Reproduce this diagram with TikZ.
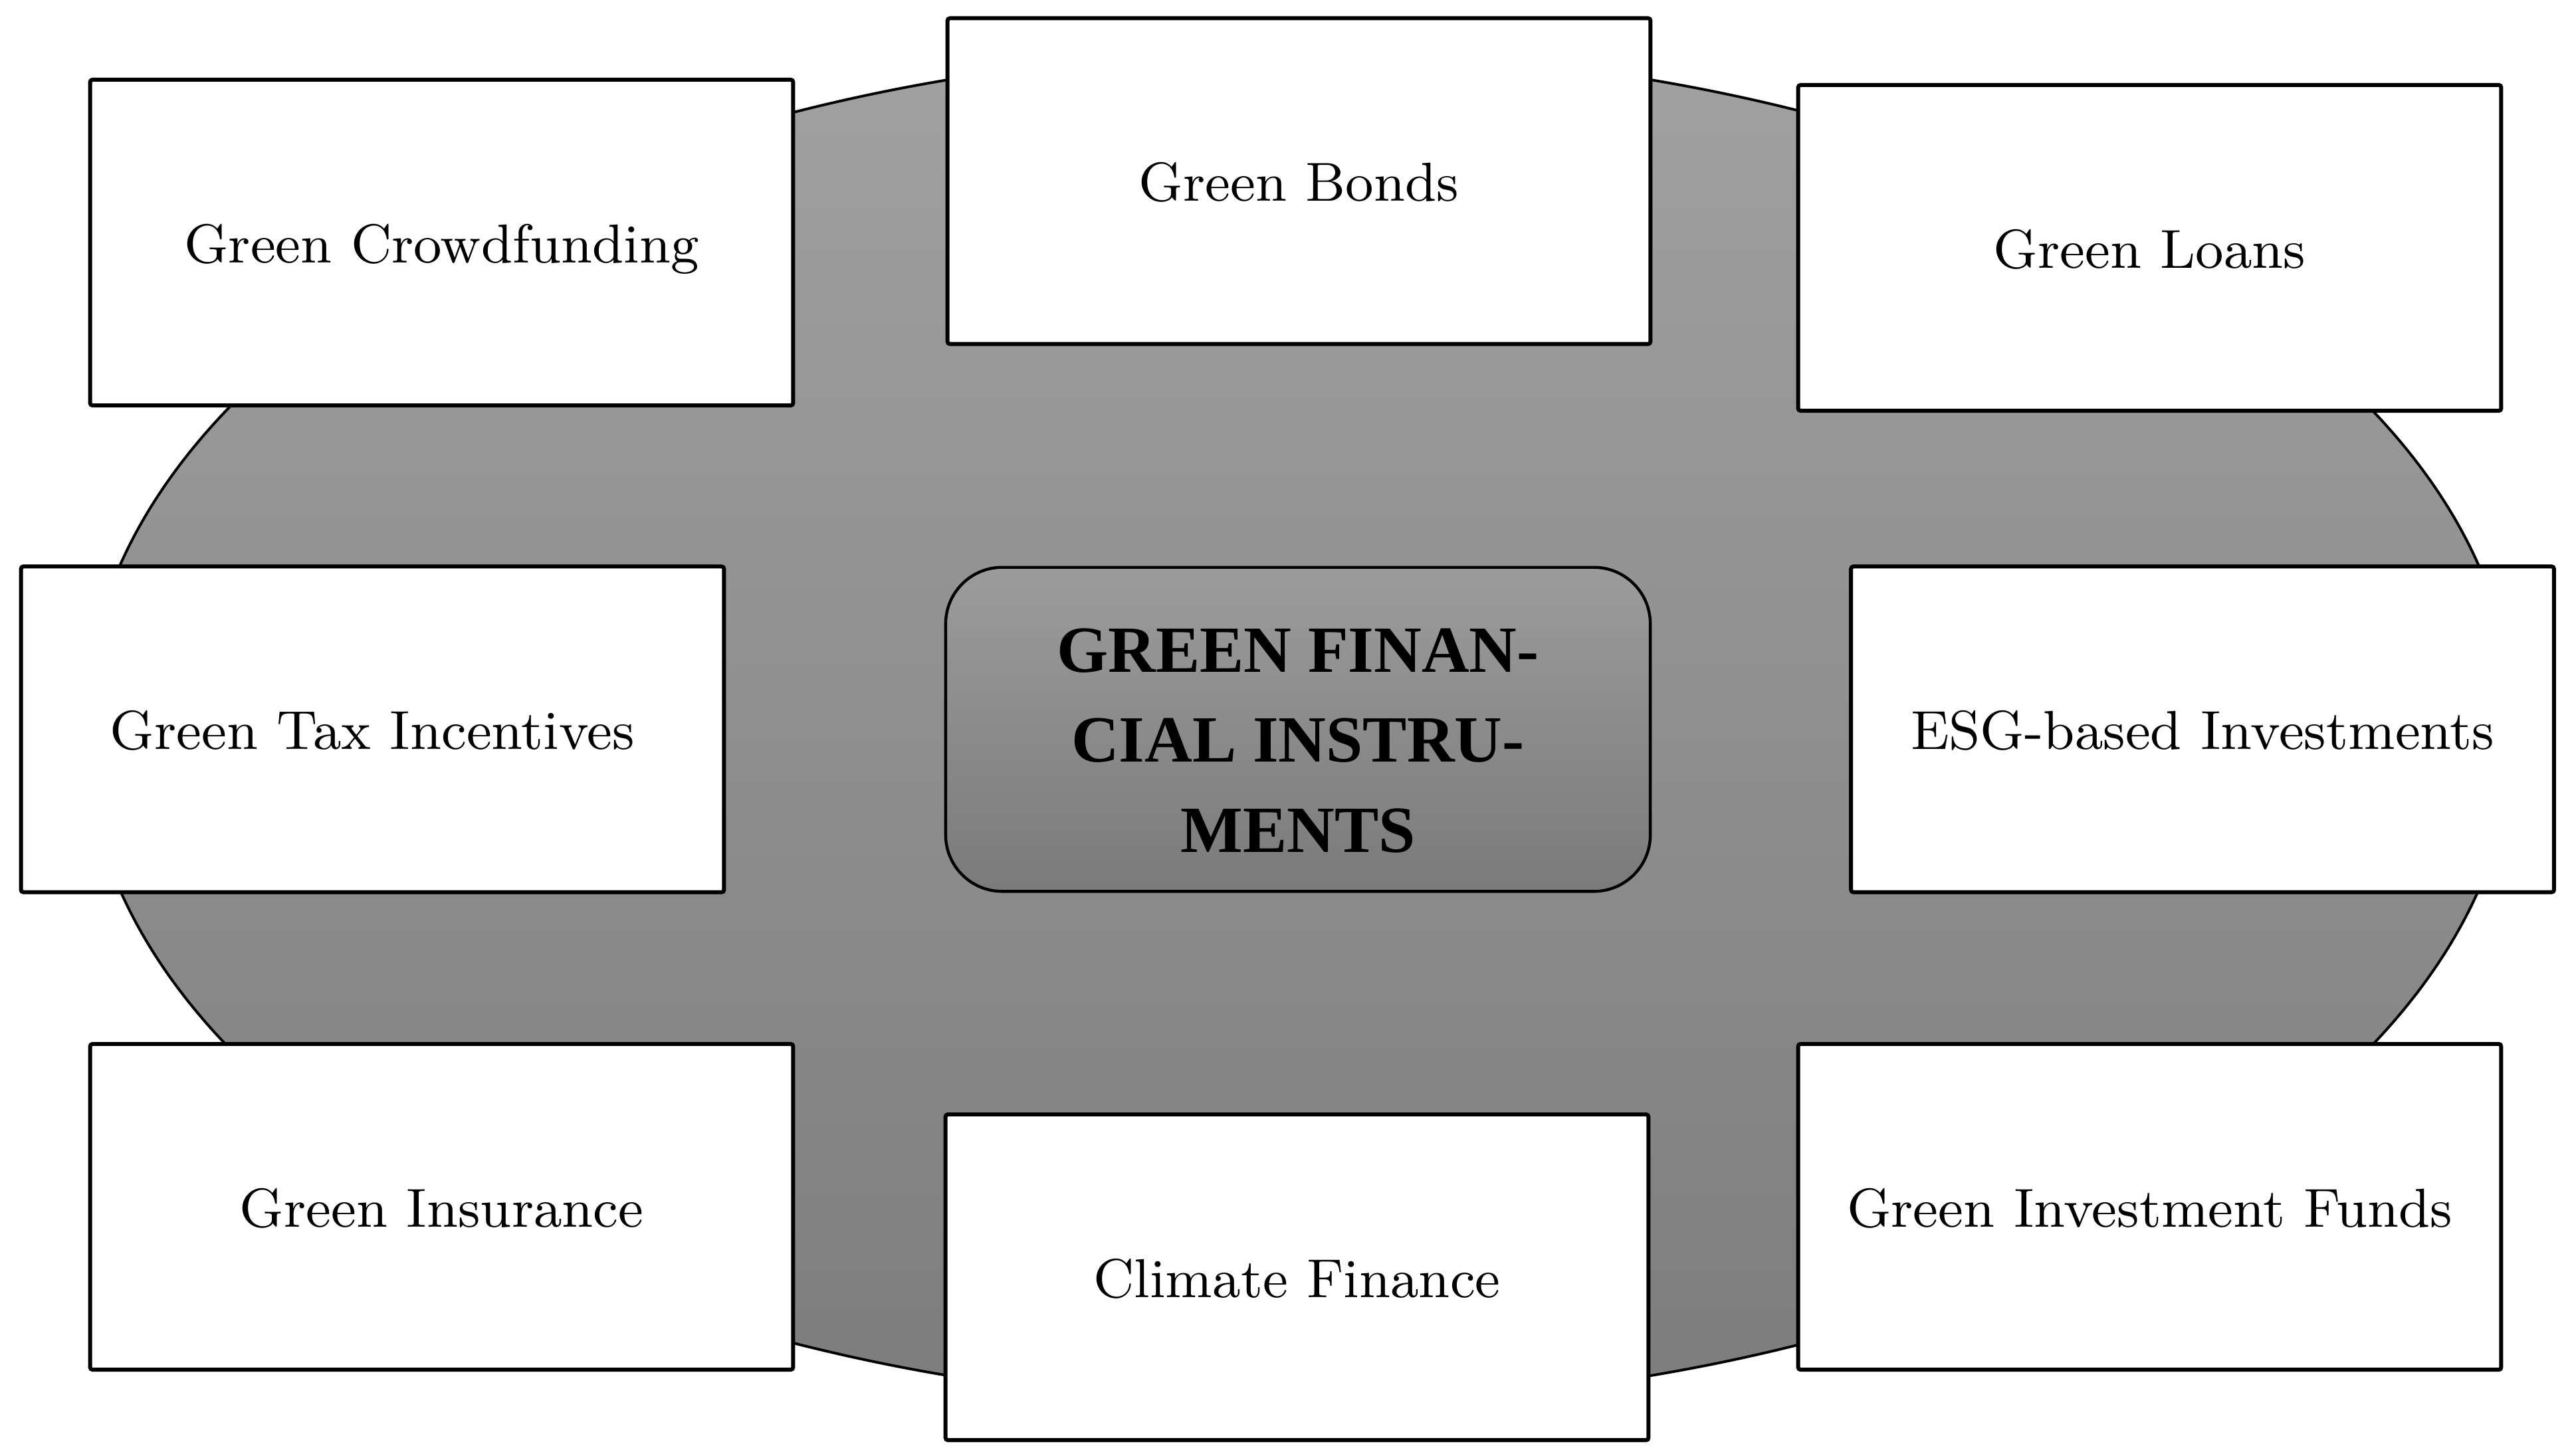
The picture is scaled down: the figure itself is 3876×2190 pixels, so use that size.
\documentclass[tikz,border=0pt]{standalone}
\usepackage{fontspec}
\newfontfamily\titlefont{Liberation Serif}
\usetikzlibrary{backgrounds}
\definecolor{ovaltop}{gray}{0.63}
\definecolor{ovalbot}{gray}{0.49}
\definecolor{hubtop}{gray}{0.61}
\definecolor{hubbot}{gray}{0.48}

\begin{document}
\begin{tikzpicture}[x=0.04mm, y=-0.04mm,
    item/.style={draw, line width=0.68pt, fill=white, rounded corners=0.4pt,
      minimum width=42.3mm, minimum height=19.6mm, inner sep=0pt,
      font=\fontsize{9.4}{11}\selectfont, text height=1.6ex, text depth=0pt},
    hub/.style={draw, line width=0.5pt, rounded corners=3.4mm,
      top color=hubtop, bottom color=hubbot,
      minimum width=42.4mm, minimum height=19.5mm, inner sep=0pt, align=center,
      font=\titlefont\bfseries\fontsize{11.3}{15.4}\selectfont}]
  \useasboundingbox (0,0) rectangle (3876,2190);
  \path node[item] (crowd) at (664.5,365) {Green Crowdfunding}
        node[item] (bonds) at (1954.5,272.5) {Green Bonds}
        node[item] (loans) at (3234.5,373) {Green Loans}
        node[item] (tax) at (560.5,1097.5) {Green Tax Incentives}
        node[hub] (core) at (1953,1097.5)
          {\rule{0pt}{11.3pt}GREEN FINAN-\\CIAL INSTRU-\\MENTS}
        node[item] (esg) at (3314,1097.5) {ESG-based Investments}
        node[item] (insur) at (664.5,1816) {Green Insurance}
        node[item] (climate) at (1951.5,1922) {Climate Finance}
        node[item] (funds) at (3234.5,1816) {Green Investment Funds};
  \begin{scope}[on background layer]
    \draw[line width=0.45pt, top color=ovaltop, bottom color=ovalbot]
      (1955,1095) ellipse [x radius=73.08mm, y radius=40.72mm];
  \end{scope}
\end{tikzpicture}
\end{document}
